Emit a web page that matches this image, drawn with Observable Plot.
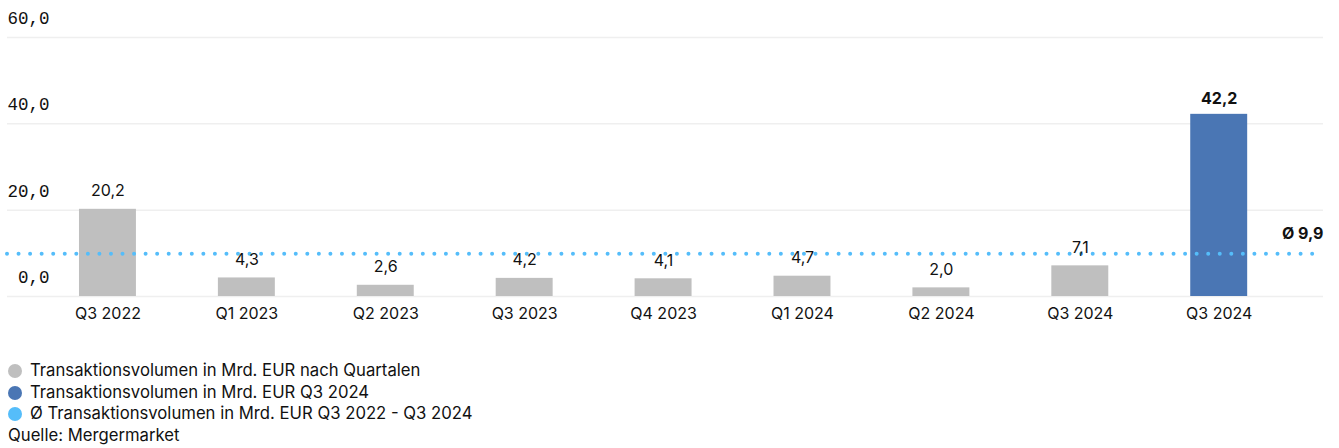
<!DOCTYPE html>
<html>
<head>
<meta charset="utf-8">
<script src="https://cdn.jsdelivr.net/npm/d3@7"></script>
<script src="https://cdn.jsdelivr.net/npm/@observablehq/plot@0.6"></script>
<style>
  body { margin: 0; background: #fff; font-family: Inter, "Liberation Sans", Arial, sans-serif; }
  #legend { padding-left: 8px; font-size: 16.7px; color: #111; line-height: 21.7px; margin-top: 10px; }
  .item { display: flex; align-items: center; }
  .dot { width: 14px; height: 14px; border-radius: 50%; display: inline-block; margin-right: 8px; }
</style>
</head>
<body>
<div id="chart"></div>
<div id="legend"></div>
<script>
const quarters = ["Q3 2022","Q1 2023","Q2 2023","Q3 2023","Q4 2023","Q1 2024","Q2 2024","Q3 2024","Q3 2024"];
const volumes = [20.2, 4.3, 2.6, 4.2, 4.1, 4.7, 2.0, 7.1, 42.2];
const highlighted = [false, false, false, false, false, false, false, false, true];
const average = 9.9;
const yTicks = [0, 20, 40, 60];
const legendLabels = [
  "Transaktionsvolumen in Mrd. EUR nach Quartalen",
  "Transaktionsvolumen in Mrd. EUR Q3 2024",
  "Ø Transaktionsvolumen in Mrd. EUR Q3 2022 - Q3 2024"
];
const source = "Quelle: Mergermarket";

const colors = { normal: "#bfbfbf", highlight: "#4a76b4", avg: "#55bdfa" };
const fmt = v => v.toFixed(1).replace(".", ",");

const data = quarters.map((q, i) => ({ i, q, v: volumes[i], hl: highlighted[i] }));

const chart = Plot.plot({
  width: 1339,
  height: 350,
  marginTop: 37,
  marginBottom: 54,
  marginLeft: 7,
  marginRight: 16,
  style: { fontFamily: "Inter, 'Liberation Sans', Arial, sans-serif", fontSize: "16px", color: "#111", background: "#fff" },
  x: { domain: d3.range(quarters.length), paddingInner: 0.59, paddingOuter: 0.532, align: 0.487, round: false, label: null },
  y: { domain: [0, 60], label: null },
  marks: [
    Plot.ruleY(yTicks, { stroke: "#efefef", strokeWidth: 1.5 }),
    Plot.axisY({ ticks: yTicks, tickSize: 0, tickFormat: fmt, textAnchor: "end", dx: 51, dy: -19,
      fontFamily: "'Liberation Mono', 'DejaVu Sans Mono', monospace", fontSize: 17.5, fill: "#111", label: null }),
    Plot.axisX({ tickSize: 0, tickPadding: 11, tickFormat: i => quarters[i], fontSize: 16, fill: "#111", label: null }),
    Plot.barY(data, { x: "i", y: "v", fill: d => d.hl ? colors.highlight : colors.normal }),
    Plot.ruleY([average], { stroke: colors.avg, strokeWidth: 4, strokeDasharray: "0,11.55", strokeLinecap: "round" }),
    Plot.text(data.filter(d => !d.hl), { x: "i", y: "v", text: d => fmt(d.v), dy: -18, fontSize: 16, fill: "#111" }),
    Plot.text(data.filter(d => d.hl), { x: "i", y: "v", text: d => fmt(d.v), dy: -15, fontSize: 16, fill: "#111", fontWeight: "bold" }),
    Plot.text([average], { y: d => d, frameAnchor: "right", textAnchor: "end", dy: -20,
      text: d => "Ø " + fmt(d), fontWeight: "bold", fontSize: 16, fill: "#111" })
  ]
});
document.getElementById("chart").append(chart);

const legend = document.getElementById("legend");
const legendColors = [colors.normal, colors.highlight, colors.avg];
legendLabels.forEach((t, k) => {
  const row = document.createElement("div");
  row.className = "item";
  const dot = document.createElement("span");
  dot.className = "dot";
  dot.style.background = legendColors[k];
  row.append(dot, document.createTextNode(t));
  legend.append(row);
});
const src = document.createElement("div");
src.textContent = source;
legend.append(src);
</script>
</body>
</html>
